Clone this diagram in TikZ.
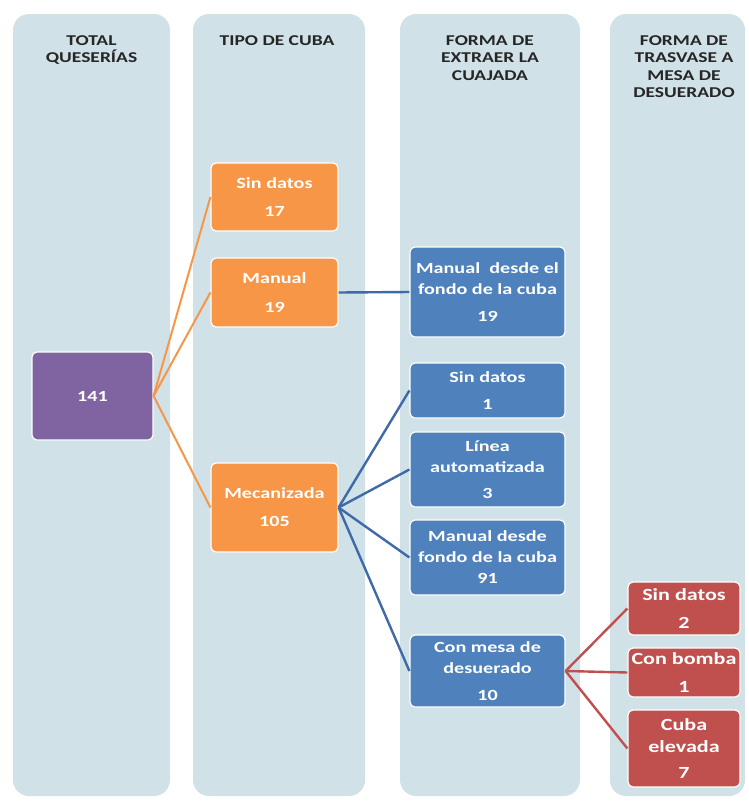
\documentclass[tikz,border=0pt]{standalone}
\usepackage{fontspec}
\setmainfont{Carlito}[FakeStretch=1.3]
\definecolor{colbg}{RGB}{208,226,232}
\definecolor{purp}{RGB}{128,100,162}
\definecolor{oran}{RGB}{247,150,70}
\definecolor{blu}{RGB}{79,129,189}
\definecolor{redd}{RGB}{192,80,77}
\definecolor{bluline}{RGB}{62,106,170}
\begin{document}
\begin{tikzpicture}
[x=1pt,y=-1pt,
 box/.style={draw=white,line width=1.2pt,rounded corners=5pt,text=white,align=center,inner sep=1pt,
   font=\fontsize{15.5}{21}\selectfont\bfseries},
 redbox/.style={box,fill=redd,minimum width=112pt,font=\fontsize{17}{22}\selectfont\bfseries},
 head/.style={align=center,anchor=north,inner sep=0pt,text=black!85,font=\fontsize{15}{17.5}\selectfont\bfseries}]
\useasboundingbox (0,0) rectangle (749,801);

\foreach \l/\r in {13/170,193/365,400/580,610/745}
\fill[colbg,rounded corners=16pt] (\l,14) rectangle (\r,796);

\node[head] (hTotal) at (91.5,35) {TOTAL\\QUESERÍAS};
\node[head] (hTipo) at (277,35) {TIPO DE CUBA};
\node[head] (hExtraer) at (490,35) {FORMA DE\\EXTRAER LA\\CUAJADA};
\node[head] (hTrasvase) at (684,35) {FORMA DE\\TRASVASE A\\MESA DE\\DESUERADO};

\node[box,fill=purp,minimum width=121pt,minimum height=88pt] (total) at (92.5,396) {141};

\node[box,fill=oran,minimum width=127pt,minimum height=68pt] (cubaSin) at (274.5,197) {Sin datos\\[7pt]17};
\node[box,fill=oran,minimum width=127pt,minimum height=69pt] (cubaManual) at (274.5,292.5) {Manual\\[8pt]19};
\node[box,fill=oran,minimum width=127pt,minimum height=89pt] (cubaMec) at (274.5,507.5) {Mecanizada\\[7pt]105};

\node[box,fill=blu,minimum width=155pt,minimum height=90pt] (extFondo) at (487.5,292) {Manual \ desde el\\fondo de la cuba\\[6pt]19};
\node[box,fill=blu,minimum width=155pt,minimum height=55pt] (extSin) at (487.5,390.5) {Sin datos\\[6pt]1};
\node[box,fill=blu,minimum width=155pt,minimum height=75pt] (extLinea) at (487.5,469.5) {Línea\\automatizada\\[5pt]3};
\node[box,fill=blu,minimum width=155pt,minimum height=75pt] (extFondoMec) at (487.5,557.5) {Manual desde\\fondo de la cuba\\91};
\node[box,fill=blu,minimum width=155pt,minimum height=72pt] (extMesa) at (487.5,671) {Con mesa de\\desuerado\\[6pt]10};

\node[redbox,minimum height=53pt] (trSin) at (684,608.5) {Sin datos\\[6pt]2};
\node[redbox,minimum height=49pt] (trBomba) at (684,672.5) {Con bomba\\[6pt]1};
\node[redbox,minimum height=77pt] (trCuba) at (684,748.5) {Cuba\\elevada\\[4pt]7};

\foreach \n in {cubaSin,cubaManual,cubaMec}
\draw[oran,line width=2pt] (total.east) -- (\n.west);
\draw[bluline,line width=2.4pt] (cubaManual.east) -- (extFondo.west);
\foreach \n in {extSin,extLinea,extFondoMec,extMesa}
\draw[bluline,line width=2.4pt] (cubaMec.east) -- (\n.west);
\foreach \n in {trSin,trBomba,trCuba}
\draw[redd,line width=2.4pt] (extMesa.east) -- (\n.west);
\end{tikzpicture}
\end{document}
